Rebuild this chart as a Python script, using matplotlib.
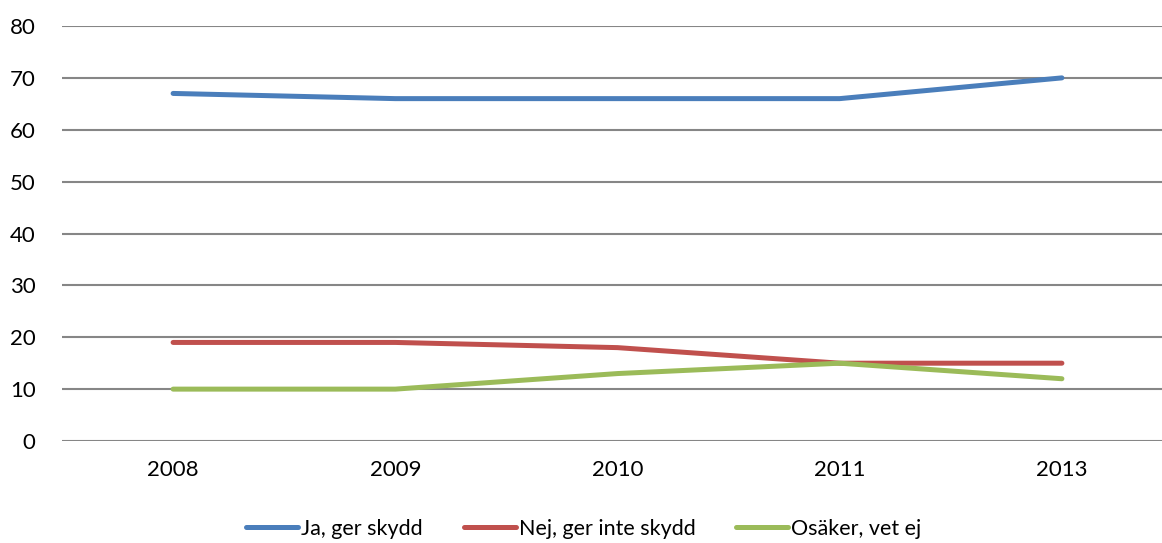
import matplotlib
matplotlib.use("Agg")
import matplotlib.pyplot as plt

years = ["2008", "2009", "2010", "2011", "2013"]
ja = [67, 66, 66, 66, 70]
nej = [19, 19, 18, 15, 15]
osaker = [10, 10, 13, 15, 12]
labels = ["Ja, ger skydd", "Nej, ger inte skydd", "Osäker, vet ej"]
colors = ["#4A7EBB", "#C0504D", "#9BBB59"]
yticks = [0, 10, 20, 30, 40, 50, 60, 70, 80]

plt.rcParams['font.family'] = ['Lato', 'DejaVu Sans']

fig = plt.figure(figsize=(11.62, 5.43), dpi=100)
ax = fig.add_axes([62/1162, 1 - 441/543, (1173 - 62)/1162, (441 - 26)/543])

x = list(range(len(years)))
for series, lab, col in zip([ja, nej, osaker], labels, colors):
    ax.plot(x, series, color=col, lw=3.6, solid_capstyle='round',
            solid_joinstyle='round', label=lab)

ax.set_xlim(-0.5, len(years) - 0.5)
ax.set_ylim(0, 80)
ax.set_yticks(yticks)
ax.set_xticks(x)
ax.set_xticklabels(years)
ax.tick_params(axis='both', length=0, labelsize=16, colors='black')
ax.tick_params(axis='y', pad=19)
ax.tick_params(axis='x', pad=14)
ax.grid(axis='y', color='#868686', lw=1.5)
ax.set_axisbelow(True)
for s in ax.spines.values():
    s.set_visible(False)

handles, labs = ax.get_legend_handles_labels()
fig.legend(handles, labs, loc='center', bbox_to_anchor=(584/1162, 0.026),
           ncol=3, frameon=False, fontsize=15.5, handlelength=2.4,
           handletextpad=0.15, columnspacing=1.9)

fig.savefig("out.png", dpi=100)
